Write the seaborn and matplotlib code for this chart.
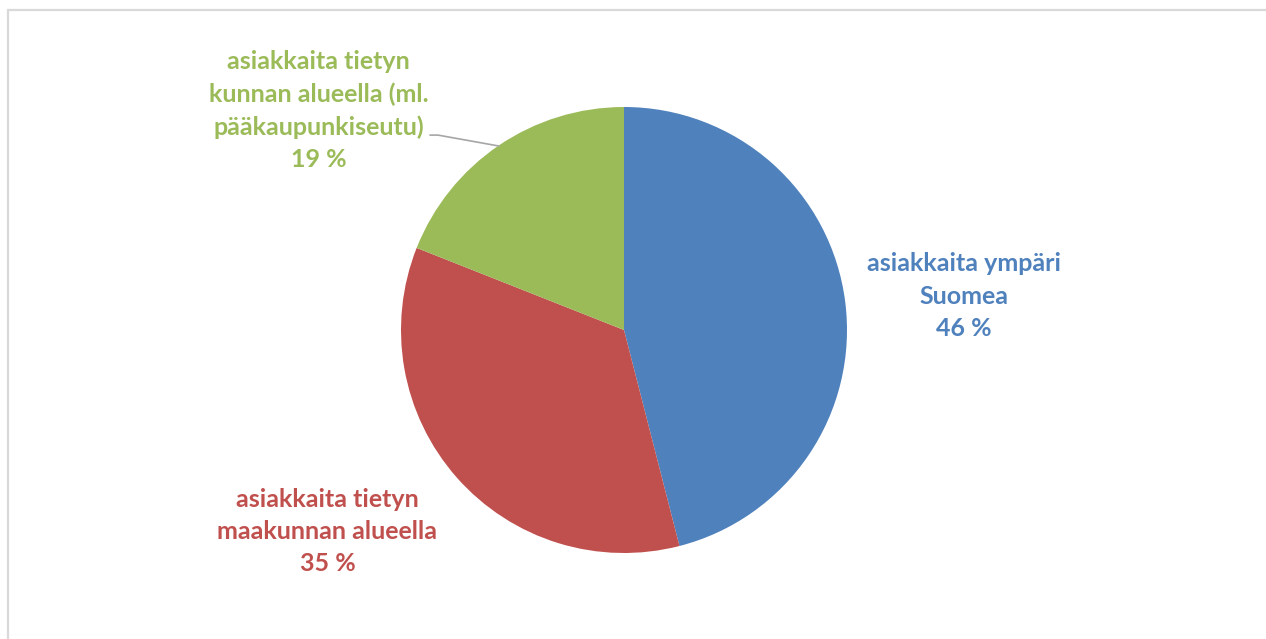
import matplotlib
matplotlib.use("Agg")
import matplotlib.pyplot as plt
import seaborn as sns

sns.set_theme(style="white")
plt.rcParams['font.family'] = ['Lato', 'DejaVu Sans']

# Data
labels = ['asiakkaita ympäri\nSuomea',
          'asiakkaita tietyn\nmaakunnan alueella',
          'asiakkaita tietyn\nkunnan alueella (ml.\npääkaupunkiseutu)']
shares = [46, 35, 19]
colors = ['#4F81BD', '#C0504D', '#9BBB59']

W, H = 1266, 639
fig = plt.figure(figsize=(W / 100, H / 100), dpi=100)

# light frame on the left and top edges
fig.add_artist(plt.Line2D([8 / W, 8 / W], [0, 1 - 10 / H], color='#d9d9d9', lw=1.6))
fig.add_artist(plt.Line2D([8 / W, 1], [1 - 10 / H, 1 - 10 / H], color='#d9d9d9', lw=1.6))

# pie axes: centre (624, 330), radius 223 px
cx, cy, r = 624, 330, 223
ax = fig.add_axes([(cx - r) / W, (H - cy - r) / H, 2 * r / W, 2 * r / H])
wedges, _ = ax.pie(shares, colors=colors, startangle=90, counterclock=False,
                   radius=1, wedgeprops=dict(linewidth=0))
ax.set_xlim(-1, 1)
ax.set_ylim(-1, 1)
ax.set_aspect('equal')
ax.axis('off')

# label positions (in radius units relative to centre)
label_pos = [(1.525, 0.152), (-1.33, -0.905), (-1.37, 0.983)]
for lab, val, col, (x, y) in zip(labels, shares, colors, label_pos):
    ax.text(x, y, f"{lab}\n{val} %", ha='center', va='center', color=col,
            fontsize=18, fontweight='bold', linespacing=1.48, clip_on=False)

# leader line for the green slice
ax.plot([-0.870, -0.834, -0.561], [0.874, 0.874, 0.825], color='#a6a6a6',
        lw=1.2, clip_on=False)

fig.savefig('out.png', dpi=100)
